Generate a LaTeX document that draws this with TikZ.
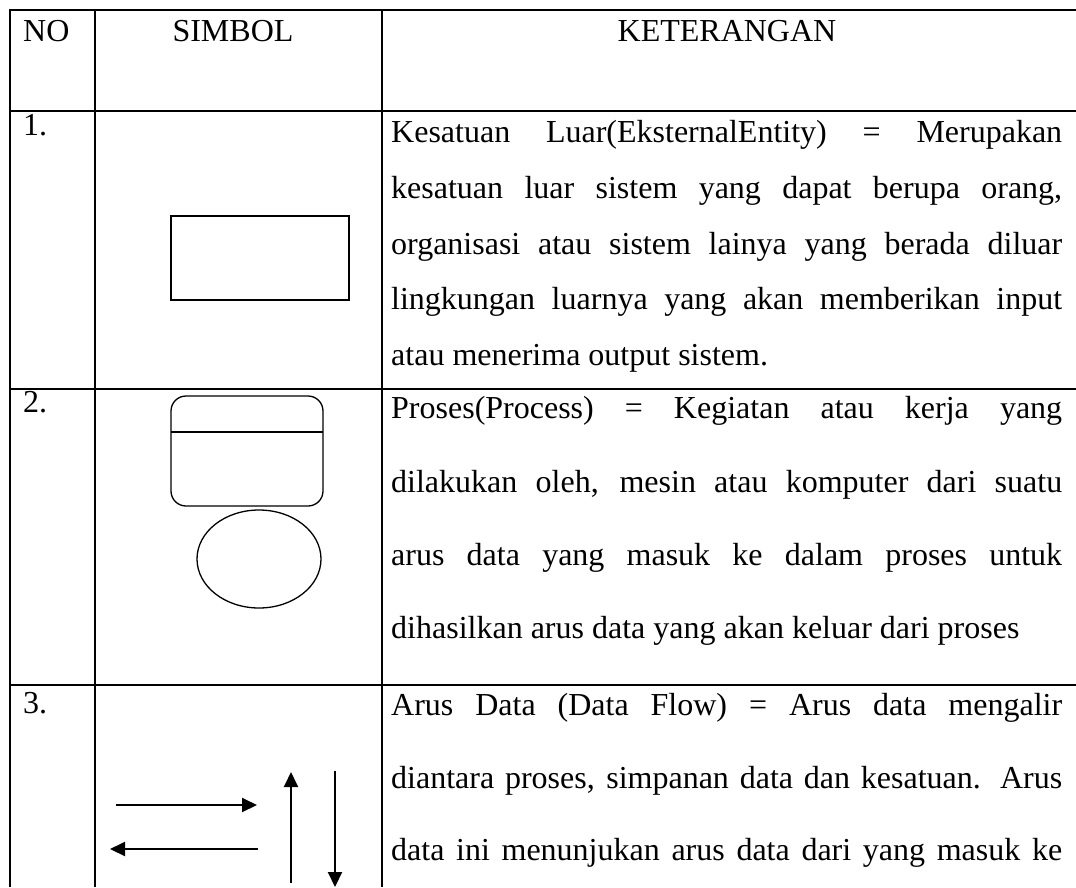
\documentclass[tikz,border=0pt]{standalone}
\usepackage{fontspec}
\setmainfont{Liberation Serif}
\usetikzlibrary{arrows.meta}

\tikzset{
  garis/.style={line width=2pt},
  simbol/.style={line width=1.3pt},
  arus/.style={line width=2pt,-{Triangle[length=15pt,width=14pt]}},
  teks/.style={anchor=base west,inner sep=0pt,font=\fontsize{32pt}{38pt}\selectfont},
  judul/.style={anchor=base,inner sep=0pt,font=\fontsize{32pt}{38pt}\selectfont}
}

% baris rata kanan-kiri
\newcommand{\baris}[3]{\node[teks] (#1) at (391,#2) {\makebox[671pt][s]{#3}};}

\begin{document}
\begin{tikzpicture}[x=1pt,y=-1pt]

\useasboundingbox
(0,0)
rectangle
(1076,887);

% Garis tabel
\draw[garis]
(10,887)
--
(10,10)
--
(1076,10);

\draw[garis]
(95,10)
--
(95,887);

\draw[garis]
(382,10)
--
(382,887);

\draw[garis]
(10,111)
--
(1076,111);

\draw[garis]
(10,389)
--
(1076,389);

\draw[garis]
(10,685)
--
(1076,685);

% Judul kolom
\node[teks] (no) at (23,41)
{NO};

\node[judul] (simbol) at (233,41)
{SIMBOL};

\node[judul] (keterangan) at (727,41)
{KETERANGAN};

% Nomor
\node[teks] (satu) at (23,135)
{1.};

\node[teks] (dua) at (23,412)
{2.};

\node[teks] (tiga) at (23,713)
{3.};

% Kesatuan luar
\draw[simbol]
(171,216)
rectangle
(349,300);

\baris{ka}{142}{Kesatuan Luar(EksternalEntity) = Merupakan}
\baris{kb}{198}{kesatuan luar sistem yang dapat berupa orang,}
\baris{kc}{254}{organisasi atau sistem lainya yang berada diluar}
\baris{kd}{309}{lingkungan luarnya yang akan memberikan input}
\node[teks] (ke) at (391,365)
{atau menerima output sistem.};

% Proses
\draw[simbol,rounded corners=15pt]
(171,396)
rectangle
(323,506);

\draw[simbol]
(171,432)
--
(323,432);

\draw[simbol]
(259,559)
ellipse (62 and 49);

\baris{pa}{418}{Proses(Process) = Kegiatan atau kerja yang}
\baris{pb}{492}{dilakukan oleh, mesin atau komputer dari suatu}
\baris{pc}{565}{arus data yang masuk ke dalam proses untuk}
\node[teks] (pd) at (391,638)
{dihasilkan arus data yang akan keluar dari proses};

% Arus data
\coordinate (kananA) at (116,805);
\coordinate (kananB) at (257,805);
\coordinate (kiriA) at (258,849);
\coordinate (kiriB) at (110,849);
\coordinate (atasA) at (291,883);
\coordinate (atasB) at (291,772);
\coordinate (bawahA) at (335,771);
\coordinate (bawahB) at (335,887);

\draw[arus] (kananA) -- (kananB);
\draw[arus] (kiriA) -- (kiriB);
\draw[arus] (atasA) -- (atasB);
\draw[arus] (bawahA) -- (bawahB);

\baris{aa}{715}{Arus Data (Data Flow) = Arus data mengalir}
\baris{ab}{788}{diantara proses, simpanan data dan kesatuan. Arus}
\baris{ac}{860}{data ini menunjukan arus data dari yang masuk ke}

\end{tikzpicture}
\end{document}
